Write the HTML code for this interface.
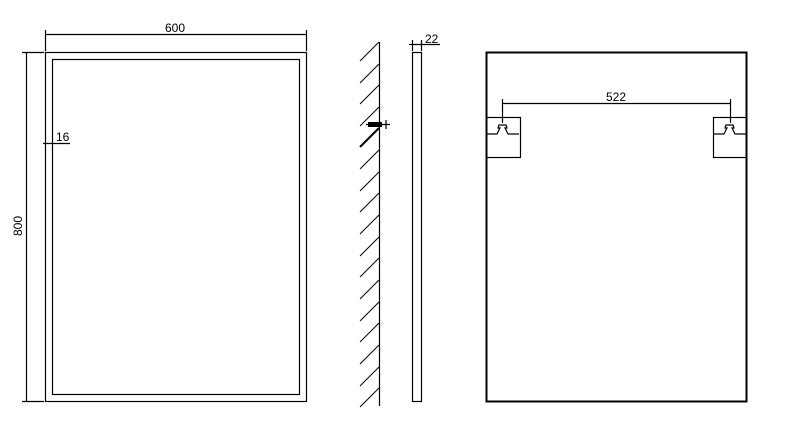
<!DOCTYPE html>
<html><head><style>body{margin:0;background:#fff}svg{display:block}</style></head><body>
<svg width="792" height="430" viewBox="0 0 792 430" xmlns="http://www.w3.org/2000/svg" font-family="Liberation Sans, sans-serif">
<g stroke="#000" fill="none" stroke-width="1.2">
<rect x="45.5" y="52.5" width="261" height="349"/>
<rect x="52.5" y="59.5" width="247" height="335"/>
<line x1="45" y1="34.5" x2="306" y2="34.5"/>
<line x1="45.5" y1="30" x2="45.5" y2="51"/>
<line x1="306.5" y1="30" x2="306.5" y2="51"/>
<line x1="26.5" y1="52" x2="26.5" y2="401"/>
<line x1="22" y1="52.5" x2="44" y2="52.5"/>
<line x1="22" y1="401.5" x2="44" y2="401.5"/>
<line x1="43" y1="143.5" x2="70" y2="143.5"/>
<line x1="379.5" y1="42" x2="379.5" y2="406"/>
<rect x="412.5" y="52.5" width="9" height="349"/>
<line x1="409" y1="44.5" x2="440" y2="44.5"/>
<line x1="412.5" y1="40" x2="412.5" y2="51"/>
<line x1="421.5" y1="40" x2="421.5" y2="51"/>
<rect x="486.5" y="52.5" width="260" height="349" stroke-width="2"/>
<line x1="502" y1="103.5" x2="730" y2="103.5"/>
<line x1="502.5" y1="99" x2="502.5" y2="123"/>
<line x1="730.5" y1="99" x2="730.5" y2="123"/>
<rect x="486.5" y="117.5" width="34" height="40"/>
<rect x="713.5" y="117.5" width="33" height="40"/>
<path d="M487 134h10l3-6h-2l1-3h7l1 3h-2l3 6h11"/>
<path d="M714 134h10l3-6h-2l1-3h7l1 3h-2l3 6h11"/>
<line x1="366" y1="124.5" x2="390" y2="124.5"/>
<line x1="386" y1="120" x2="386" y2="129"/>
</g>
<rect x="368" y="122" width="14" height="5" fill="#000"/>
<g stroke="#000" stroke-width="1">
<line x1="360" y1="61" x2="379" y2="42"/>
<line x1="360" y1="83" x2="379" y2="64"/>
<line x1="360" y1="104" x2="379" y2="85"/>
<line x1="360" y1="126" x2="379" y2="107"/>
<line x1="360" y1="147" x2="379" y2="128" stroke-width="2"/>
<line x1="360" y1="169" x2="379" y2="150"/>
<line x1="360" y1="191" x2="379" y2="172"/>
<line x1="360" y1="212" x2="379" y2="193"/>
<line x1="360" y1="234" x2="379" y2="215"/>
<line x1="360" y1="256" x2="379" y2="237"/>
<line x1="360" y1="277" x2="379" y2="258"/>
<line x1="360" y1="299" x2="379" y2="280"/>
<line x1="360" y1="321" x2="379" y2="302"/>
<line x1="360" y1="342" x2="379" y2="323"/>
<line x1="360" y1="364" x2="379" y2="345"/>
<line x1="360" y1="386" x2="379" y2="367"/>
<line x1="360" y1="407" x2="379" y2="388"/>
</g>
<g font-size="12" fill="#000">
<text x="175" y="32" text-anchor="middle">600</text>
<text x="56" y="141">16</text>
<text x="425" y="43">22</text>
<text x="616" y="101" text-anchor="middle">522</text>
<text transform="translate(22,226) rotate(-90)" text-anchor="middle">800</text>
</g>
</svg>
</body></html>
